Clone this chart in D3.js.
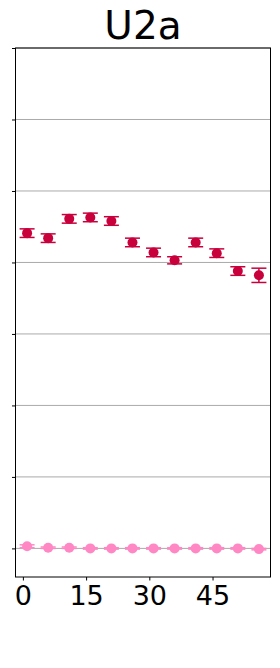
<!DOCTYPE html>
<html>
<head>
<meta charset="utf-8">
<script src="https://cdn.jsdelivr.net/npm/d3@7"></script>
<style>
  body { margin: 0; background: #fff; }
  svg { display: block; font-family: "DejaVu Sans", sans-serif; }
</style>
</head>
<body>
<svg></svg>
<script>
// data
var xs = [1, 6, 11, 16, 21, 26, 31, 36, 41, 46, 51, 56];
var redVals = [4.41, 4.34, 4.61, 4.63, 4.58, 4.28, 4.14, 4.03, 4.28, 4.13, 3.88, 3.82];
var redErr = [0.06, 0.06, 0.06, 0.06, 0.06, 0.06, 0.06, 0.05, 0.06, 0.06, 0.06, 0.1];
var pinkVals = [0.03, 0.01, 0.01, 0.0, 0.0, 0.0, 0.0, 0.0, 0.0, 0.0, 0.0, -0.01];
var pinkErr = [0.02, 0.01, 0.01, 0.01, 0.01, 0.01, 0.01, 0.01, 0.01, 0.01, 0.01, 0.01];
var yTicks = [0, 1, 2, 3, 4, 5, 6, 7];
var xTicks = [0, 15, 30, 45];

var screen = { width: 280, height: 668 };
var margins = { top: 48, left: 15.5, right: 9.5, bottom: 91 };
var width = screen.width - margins.left - margins.right;
var height = screen.height - margins.top - margins.bottom;

var svg = d3.select("svg")
  .attr("width", screen.width)
  .attr("height", screen.height);

var xScale = d3.scaleLinear().domain([-1.75, 58.75]).range([0, width]);
var yScale = d3.scaleLinear().domain([-0.4, 7]).range([height, 0]);

var plot = svg.append("g")
  .attr("transform", "translate(" + margins.left + "," + margins.top + ")");

// grid
plot.append("g").selectAll("line")
  .data(yTicks)
  .enter().append("line")
  .attr("x1", 0).attr("x2", width)
  .attr("y1", function(d) { return yScale(d); })
  .attr("y2", function(d) { return yScale(d); })
  .attr("stroke", "#aaaaaa")
  .attr("stroke-width", 1);

var series = [
  { vals: redVals, err: redErr, color: "#c8003c" },
  { vals: pinkVals, err: pinkErr, color: "#ff88c4" }
];

series.forEach(function(s) {
  var g = plot.append("g").attr("fill", s.color).attr("stroke", s.color);
  var pts = g.selectAll("g").data(xs).enter().append("g");
  pts.append("line")
    .attr("x1", function(d) { return xScale(d); })
    .attr("x2", function(d) { return xScale(d); })
    .attr("y1", function(d, i) { return yScale(s.vals[i] - s.err[i]); })
    .attr("y2", function(d, i) { return yScale(s.vals[i] + s.err[i]); })
    .attr("stroke-width", 1.5);
  [-1, 1].forEach(function(sign) {
    pts.append("line")
      .attr("x1", function(d) { return xScale(d) - 7.5; })
      .attr("x2", function(d) { return xScale(d) + 7.5; })
      .attr("y1", function(d, i) { return yScale(s.vals[i] + sign * s.err[i]); })
      .attr("y2", function(d, i) { return yScale(s.vals[i] + sign * s.err[i]); })
      .attr("stroke-width", 1.5);
  });
  pts.append("circle")
    .attr("cx", function(d) { return xScale(d); })
    .attr("cy", function(d, i) { return yScale(s.vals[i]); })
    .attr("r", 5)
    .attr("stroke", "none");
});

// axes
var yAxis = d3.axisLeft(yScale).tickValues(yTicks).tickSize(3.5).tickFormat("");
var yg = plot.append("g").call(yAxis);
yg.select(".domain").remove();
yg.selectAll("line").attr("stroke", "#000").attr("stroke-width", 1);

var xAxis = d3.axisBottom(xScale).tickValues(xTicks).tickSize(3.5).tickPadding(5);
var xg = plot.append("g")
  .attr("transform", "translate(0," + height + ")")
  .call(xAxis);
xg.select(".domain").remove();
xg.selectAll("line").attr("stroke", "#000").attr("stroke-width", 1);
xg.selectAll("text")
  .attr("font-family", "DejaVu Sans")
  .attr("font-size", 27)
  .attr("fill", "#000");

// frame
plot.append("rect")
  .attr("x", 0).attr("y", 0)
  .attr("width", width).attr("height", height)
  .attr("fill", "none")
  .attr("stroke", "#000")
  .attr("stroke-width", 1);

// title
svg.append("text")
  .attr("x", margins.left + width / 2)
  .attr("y", 39)
  .attr("text-anchor", "middle")
  .attr("font-size", 39)
  .attr("fill", "#000")
  .text("U2a");
</script>
</body>
</html>
